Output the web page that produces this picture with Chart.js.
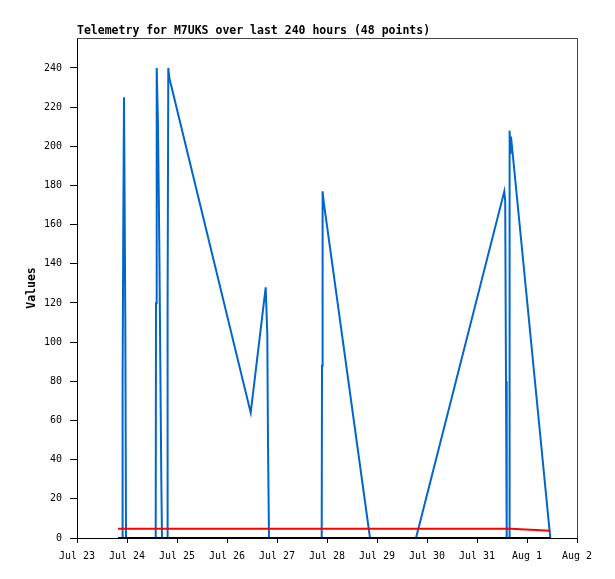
<!DOCTYPE html>
<html>
<head>
<meta charset="utf-8">
<script src="https://cdn.jsdelivr.net/npm/chart.js@4.4.1/dist/chart.umd.min.js"></script>
<style>
  html, body { margin: 0; padding: 0; background: #ffffff; }
  #wrap { width: 615px; height: 579px; }
</style>
</head>
<body>
<div id="wrap"><canvas id="c" width="615" height="579"></canvas></div>
<script>
// ---- data (x in days since Jul 23 00:00) ----
const dayLabels = ["Jul 23","Jul 24","Jul 25","Jul 26","Jul 27","Jul 28","Jul 29","Jul 30","Jul 31","Aug 1","Aug 2"];
const yTicks = [0,20,40,60,80,100,120,140,160,180,200,220,240];
const times = [0.82,0.906,0.912,0.926,0.94,0.966,0.98,1.574,1.58,1.594,1.62,1.646,1.666,1.686,1.70,
               1.806,1.812,1.826,1.846,3.474,3.774,3.806,3.82,3.84,4.894,4.90,4.912,4.932,5.86,6.78,
               8.546,8.564,8.58,8.594,8.646,8.652,8.668,8.68,9.466];
const blueValues = [0,0,80,160,225,112,0,0,120,240,210,150,90,30,0,
                    0,120,240,235,64,128,104,48,0,0,88,177,172,0,0,
                    177,172,80,0,0,208,196,205,0];
const redValues = [4.7,4.7,4.7,4.7,4.7,4.7,4.7,4.7,4.7,4.7,4.7,4.7,4.7,4.7,4.7,
                   4.7,4.7,4.7,4.7,4.7,4.7,4.7,4.7,4.7,4.7,4.7,4.7,4.7,4.7,4.7,
                   4.7,4.7,4.7,4.7,4.7,4.7,4.7,4.7,3.7];
const blackValues = [0,0,0,0,0,0,0,0,0,0,0,0,0,0,0,
                     0,0,0,0,0,0,0,0,0,0,0,0,0,0,0,
                     0,0,0,0,0,0,0,0,0];
const titleText = "Telemetry for M7UKS over last 240 hours (48 points)";
const yTitle = "Values";

const toPts = vals => times.map((t, i) => ({x: t, y: vals[i]}));

const MONO = '"DejaVu Sans Mono", "Liberation Mono", monospace';

const frame = {
  id: 'frame',
  beforeDatasetsDraw(chart) {
    const {ctx, chartArea: a} = chart;
    ctx.save();
    ctx.strokeStyle = '#444444';
    ctx.lineWidth = 1;
    ctx.beginPath();
    ctx.moveTo(a.left, a.top + 0.5);
    ctx.lineTo(a.right + 0.5, a.top + 0.5);
    ctx.lineTo(a.right + 0.5, a.bottom);
    ctx.stroke();
    ctx.restore();
  }
};

const bg = {
  id: 'bg',
  beforeDraw(chart) {
    const {ctx, width, height} = chart;
    ctx.save();
    ctx.fillStyle = '#ffffff';
    ctx.fillRect(0, 0, width, height);
    ctx.restore();
  }
};

new Chart(document.getElementById('c'), {
  type: 'line',
  data: {
    datasets: [
      { label: 'black', data: toPts(blackValues), borderColor: '#000000', borderWidth: 2, order: 0 },
      { label: 'red', data: toPts(redValues), borderColor: '#ff0000', borderWidth: 2, order: 1 },
      { label: 'blue', data: toPts(blueValues), borderColor: '#0066cc', borderWidth: 2, order: 2 }
    ]
  },
  options: {
    responsive: false,
    animation: false,
    devicePixelRatio: 1,
    layout: { padding: { left: 0, right: 38, top: 0, bottom: 0 } },
    elements: {
      point: { radius: 0, hoverRadius: 0 },
      line: { tension: 0, borderCapStyle: 'butt', borderJoinStyle: 'miter', fill: false }
    },
    plugins: {
      legend: { display: false },
      tooltip: { enabled: false },
      title: {
        display: true,
        text: titleText,
        fullSize: false,
        align: 'start',
        position: 'top',
        color: '#000000',
        font: { family: MONO, size: 11.5, weight: 'bold', lineHeight: 1.0 },
        padding: { top: 25.2, bottom: 1.3 }
      }
    },
    scales: {
      x: {
        type: 'linear',
        min: 0,
        max: 10,
        afterBuildTicks: s => { s.ticks = dayLabels.map((_, i) => ({ value: i })); },
        afterFit: s => { s.height = 41; },
        ticks: {
          autoSkip: false,
          maxRotation: 0,
          padding: 7,
          color: '#000000',
          font: { family: MONO, size: 10 },
          callback: v => dayLabels[v]
        },
        grid: { drawOnChartArea: false, drawTicks: true, tickLength: 5, color: '#000000', tickWidth: 1 },
        border: { display: true, color: '#000000', width: 1 }
      },
      y: {
        type: 'linear',
        min: 0,
        max: 255.3,
        afterBuildTicks: s => { s.ticks = yTicks.map(v => ({ value: v })); },
        afterFit: s => { s.width = 77; },
        ticks: {
          padding: 8,
          color: '#000000',
          font: { family: MONO, size: 10 }
        },
        title: {
          display: true,
          text: yTitle,
          color: '#000000',
          font: { family: MONO, size: 11.5, weight: 'bold', lineHeight: 1.2 },
          padding: { top: 25.5, bottom: 0 }
        },
        grid: { drawOnChartArea: false, drawTicks: true, tickLength: 7, color: '#000000', tickWidth: 1 },
        border: { display: true, color: '#000000', width: 1 }
      }
    }
  },
  plugins: [bg, frame]
});
</script>
</body>
</html>
